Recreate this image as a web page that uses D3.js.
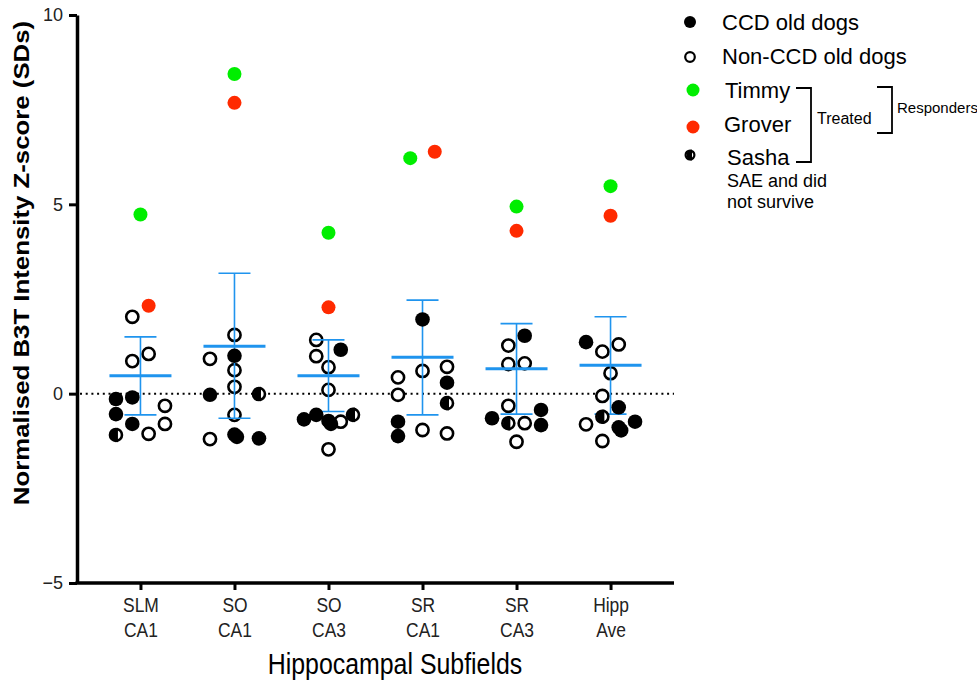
<!DOCTYPE html>
<html>
<head>
<meta charset="utf-8">
<script src="https://cdn.jsdelivr.net/npm/d3@7"></script>
<style>
  body { margin: 0; background: #fff; }
  text { font-family: "Liberation Sans", Arial, sans-serif; }
</style>
</head>
<body>
<div id="chart"></div>
<script>
// data
var subfields = [["SLM", "CA1"], ["SO", "CA1"], ["SO", "CA3"], ["SR", "CA1"], ["SR", "CA3"], ["Hipp", "Ave"]];

var ccdValues = [
    [-0.14, -0.10, -0.54, -0.80],
    [1.00, -0.03, -1.08, -1.14, -1.18],
    [1.16, -0.68, -0.56, -0.72, -0.80],
    [1.96, 0.29, -0.74, -1.12],
    [1.53, -0.43, -0.65, -0.83],
    [1.36, -0.36, -0.89, -0.97, -0.74]
];
var ccdSlots = [
    [-3, -1, -3, -1],
    [0, -3, 0, 0.3, 3],
    [1.5, -3, -1.5, 0, 0.3],
    [0, 3, -3, -3],
    [1, 3, -3, 3],
    [-3, 1, 1, 1.3, 3]
];

var nonCcdValues = [
    [2.03, 0.86, 1.05, -0.32, -0.80, -1.06],
    [1.55, 0.92, 0.62, 0.18, -0.56, -1.20],
    [1.42, 0.99, 0.70, 0.10, -0.74, -1.47],
    [0.60, 0.71, 0.43, -0.03, -0.96, -1.05],
    [1.27, 0.78, 0.80, -0.32, -0.78, -1.27],
    [1.30, 1.11, 0.54, -0.06, -0.81, -1.25]
];
var nonCcdSlots = [
    [-1, -1, 1, 3, 3, 1],
    [0, -3, 0, 0, 0, -3],
    [-1.5, -1.5, 0, 0, 1.5, 0],
    [0, 3, -3, -3, 0, 3],
    [-1, -1, 1, -1, 1, 0],
    [1, -1, 0, -1, -3, -1]
];

var sashaValues = [-1.09, -0.01, -0.56, -0.25, -0.78, -0.61];
var sashaSlots = [-3, 3, 3, 3, -1, -1];
var timmyValues = [4.73, 8.44, 4.25, 6.22, 4.94, 5.48];
var timmySlots = [0, 0, 0, -1.5, 0, 0];
var groverValues = [2.32, 7.68, 2.28, 6.39, 4.30, 4.70];
var groverSlots = [1, 0, 0, 1.5, 0, 0];

var meanValues = [0.47, 1.25, 0.47, 0.96, 0.66, 0.75];
var sdUpper = [1.50, 3.18, 1.42, 2.47, 1.85, 2.03];
var sdLower = [-0.56, -0.65, -0.47, -0.56, -0.54, -0.54];

var yTicks = [-5, 0, 5, 10];

// set the dimensions
var width = 977, height = 682;
var plot = { left: 77, right: 674, top: 15, bottom: 583 };
var blue = "#1f94ee", green = "#00ee00", red = "#ff2a00";

var svg = d3.select("#chart")
    .append("svg")
    .attr("width", width)
    .attr("height", height);

var x = d3.scalePoint()
    .domain(d3.range(subfields.length))
    .range([plot.left, plot.right])
    .padding(0.675);

var y = d3.scaleLinear()
    .domain([-5, 10])
    .range([plot.bottom, plot.top]);

// jitter slots -> pixel offset
var slot = d3.scaleLinear().domain([-3, 3]).range([-24.5, 24.5]);

// zero line
svg.append("line")
    .attr("x1", plot.left + 3)
    .attr("x2", plot.right)
    .attr("y1", y(0))
    .attr("y2", y(0))
    .attr("stroke", "#000")
    .attr("stroke-width", 2)
    .attr("stroke-dasharray", "2,3.7");

// Y axis
var yAxis = svg.append("g")
    .attr("transform", "translate(" + plot.left + ",0)")
    .call(d3.axisLeft(y).tickValues(yTicks).tickSize(8).tickSizeOuter(0).tickPadding(6));
yAxis.select(".domain").attr("stroke-width", 3.5);
yAxis.selectAll(".tick line").attr("stroke-width", 3);
yAxis.selectAll(".tick text")
    .style("font-size", "18px")
    .attr("fill", "#222");

// X axis
var xAxis = svg.append("g")
    .attr("transform", "translate(0," + plot.bottom + ")")
    .call(d3.axisBottom(x).tickSize(7).tickSizeOuter(0).tickFormat(""));
xAxis.select(".domain").attr("stroke-width", 3.5).attr("d", "M" + (plot.left - 1.5) + ",0H" + plot.right);
xAxis.selectAll(".tick line").attr("stroke-width", 3);
xAxis.selectAll(".tick text").remove();
xAxis.selectAll(".tick").each(function (d) {
    var t = d3.select(this).append("text")
        .attr("fill", "#222")
        .attr("text-anchor", "middle")
        .attr("transform", "scale(0.85,1)")
        .style("font-size", "20.5px");
    t.append("tspan").attr("x", 0).attr("y", 29).text(subfields[d][0]);
    t.append("tspan").attr("x", 0).attr("y", 54).text(subfields[d][1]);
});

// axis labels
svg.append("text")
    .attr("text-anchor", "middle")
    .attr("transform", "translate(395,674) scale(0.83,1)")
    .style("font-size", "30px")
    .text("Hippocampal Subfields");

svg.append("text")
    .attr("text-anchor", "middle")
    .attr("transform", "translate(29,263) rotate(-90) scale(1.2,1)")
    .style("font-size", "21.5px")
    .style("font-weight", "bold")
    .text("Normalised B3T Intensity Z-score (SDs)");

// flatten groups into points
function flatten(values, slots) {
    var out = [];
    values.forEach(function (arr, g) {
        arr.forEach(function (v, i) { out.push({ g: g, v: v, s: slots[g][i] }); });
    });
    return out;
}
function single(values, slots) {
    return values.map(function (v, g) { return { g: g, v: v, s: slots[g] }; });
}
function px(d) { return x(d.g) + slot(d.s); }

var r = 7.3;

// open circles (non-CCD)
svg.append("g")
    .selectAll("circle")
    .data(flatten(nonCcdValues, nonCcdSlots))
    .enter()
    .append("circle")
    .attr("cx", px)
    .attr("cy", function (d) { return y(d.v); })
    .attr("r", r - 1.2)
    .attr("fill", "#fff")
    .attr("stroke", "#000")
    .attr("stroke-width", 2.6);

// mean and SD bars
var bars = svg.append("g")
    .selectAll("g")
    .data(meanValues)
    .enter()
    .append("g")
    .attr("stroke", blue);
bars.append("line")
    .attr("x1", function (d, i) { return x(i); })
    .attr("x2", function (d, i) { return x(i); })
    .attr("y1", function (d, i) { return y(sdUpper[i]); })
    .attr("y2", function (d, i) { return y(sdLower[i]); })
    .attr("stroke-width", 1.6);
bars.append("line")
    .attr("x1", function (d, i) { return x(i) - 16; })
    .attr("x2", function (d, i) { return x(i) + 16; })
    .attr("y1", function (d, i) { return y(sdUpper[i]); })
    .attr("y2", function (d, i) { return y(sdUpper[i]); })
    .attr("stroke-width", 1.6);
bars.append("line")
    .attr("x1", function (d, i) { return x(i) - 16; })
    .attr("x2", function (d, i) { return x(i) + 16; })
    .attr("y1", function (d, i) { return y(sdLower[i]); })
    .attr("y2", function (d, i) { return y(sdLower[i]); })
    .attr("stroke-width", 1.6);
bars.append("line")
    .attr("x1", function (d, i) { return x(i) - 31; })
    .attr("x2", function (d, i) { return x(i) + 31; })
    .attr("y1", function (d) { return y(d); })
    .attr("y2", function (d) { return y(d); })
    .attr("stroke-width", 3);

// filled circles (CCD)
svg.append("g")
    .selectAll("circle")
    .data(flatten(ccdValues, ccdSlots))
    .enter()
    .append("circle")
    .attr("cx", px)
    .attr("cy", function (d) { return y(d.v); })
    .attr("r", r)
    .attr("fill", "#000");

// half-filled marker
function halfMarker(sel, rad, sw) {
    sel.append("circle")
        .attr("r", rad - sw / 2)
        .attr("fill", "#fff")
        .attr("stroke", "#000")
        .attr("stroke-width", sw);
    sel.append("path")
        .attr("d", "M0," + (-rad) + "A" + rad + "," + rad + " 0 0 0 0," + rad + "Z")
        .attr("transform", "translate(2,0)")
        .attr("fill", "#000");
}
svg.append("g")
    .selectAll("g")
    .data(single(sashaValues, sashaSlots))
    .enter()
    .append("g")
    .attr("transform", function (d) { return "translate(" + px(d) + "," + y(d.v) + ")"; })
    .each(function () { halfMarker(d3.select(this), r, 2.6); });

// Timmy and Grover
svg.append("g")
    .selectAll("circle")
    .data(single(timmyValues, timmySlots))
    .enter()
    .append("circle")
    .attr("cx", px)
    .attr("cy", function (d) { return y(d.v); })
    .attr("r", 7)
    .attr("fill", green);
svg.append("g")
    .selectAll("circle")
    .data(single(groverValues, groverSlots))
    .enter()
    .append("circle")
    .attr("cx", px)
    .attr("cy", function (d) { return y(d.v); })
    .attr("r", 7)
    .attr("fill", red);

// legend
var legend = svg.append("g");
legend.append("circle").attr("cx", 690).attr("cy", 22).attr("r", 6).attr("fill", "#000");
legend.append("circle").attr("cx", 690).attr("cy", 57).attr("r", 4.8)
    .attr("fill", "#fff").attr("stroke", "#000").attr("stroke-width", 2.2);
legend.append("circle").attr("cx", 693).attr("cy", 90).attr("r", 6.5).attr("fill", green);
legend.append("circle").attr("cx", 693).attr("cy", 127).attr("r", 6.5).attr("fill", red);
legend.append("g").attr("transform", "translate(690,155)")
    .each(function () { halfMarker(d3.select(this), 5.5, 2.2); });

var legendText = [
    ["CCD old dogs", 722, 30],
    ["Non-CCD old dogs", 722, 64],
    ["Timmy", 725, 98],
    ["Grover", 724, 132],
    ["Sasha", 727, 165]
];
legend.selectAll("text.item")
    .data(legendText)
    .enter()
    .append("text")
    .attr("class", "item")
    .attr("x", function (d) { return d[1]; })
    .attr("y", function (d) { return d[2]; })
    .style("font-size", "22px")
    .text(function (d) { return d[0]; });

legend.append("text").attr("x", 727).attr("y", 187).style("font-size", "18px").text("SAE and did");
legend.append("text").attr("x", 727).attr("y", 208).style("font-size", "18px").text("not survive");

// brackets
legend.append("path")
    .attr("d", "M796,88H811V162H796")
    .attr("fill", "none").attr("stroke", "#000").attr("stroke-width", 1.8);
legend.append("text").attr("x", 817).attr("y", 124).style("font-size", "16px").text("Treated");
legend.append("path")
    .attr("d", "M877,87H892V133H877")
    .attr("fill", "none").attr("stroke", "#000").attr("stroke-width", 1.8);
legend.append("text").attr("x", 897).attr("y", 113).style("font-size", "15px").text("Responders");
</script>
</body>
</html>
